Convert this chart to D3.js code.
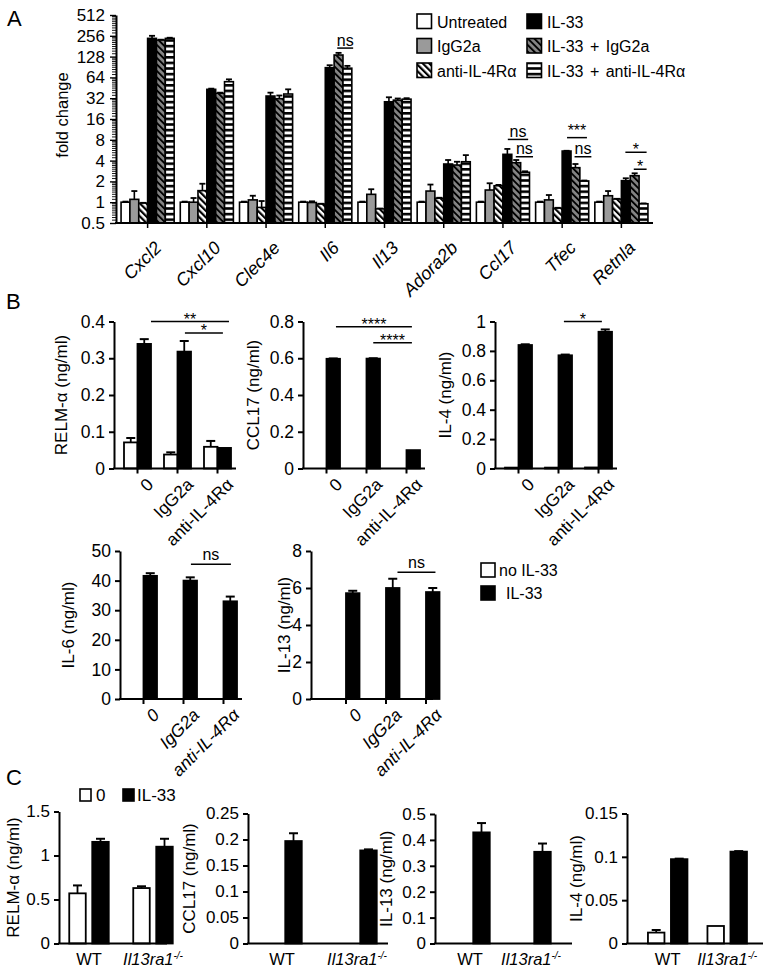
<!DOCTYPE html>
<html><head><meta charset="utf-8">
<script src="https://cdn.jsdelivr.net/npm/d3@7"></script>
<style>
body{margin:0;background:#fff;}
svg text{font-family:"Liberation Sans",Arial,Helvetica,sans-serif;fill:#000;}
</style></head><body>
<svg id="fig" width="774" height="972"></svg>
<script>
// ---------------- DATA ----------------
// Panel A (fold change, log2 axis)
const genesA = ["Cxcl2","Cxcl10","Clec4e","Il6","Il13","Adora2b","Ccl17","Tfec","Retnla"];
const seriesA = ["Untreated","IgG2a","anti-IL-4R\u03b1","IL-33","IL-33 + IgG2a","IL-33 + anti-IL-4R\u03b1"];
const untreatedA    = [1, 1, 1, 1, 1, 1, 1, 1, 1];
const untreatedErrA = [1.02, 1.02, 1.02, 1.02, 1.02, 1.02, 1.02, 1.02, 1.02];
const igg2aA        = [1.1, 1.0, 1.08, 0.99, 1.3, 1.45, 1.5, 1.08, 1.24];
const igg2aErrA     = [1.45, 1.15, 1.24, 1.03, 1.54, 1.8, 1.88, 1.27, 1.45];
const antiA         = [0.97, 1.47, 0.84, 0.94, 0.8, 1.14, 1.73, 0.82, 1.11];
const antiErrA      = [0.98, 1.85, 1.04, 0.95, 0.81, 1.16, 1.78, 0.83, 1.12];
const il33A         = [235, 43, 34.4, 88.5, 28.4, 3.57, 4.93, 5.5, 2.05];
const il33ErrA      = [256, 44, 38.5, 96, 33, 4.08, 5.9, 5.55, 2.22];
const il33IgA       = [222, 37.7, 31.5, 135, 30, 3.45, 3.73, 3.16, 2.42];
const il33IgErrA    = [225, 38.5, 35, 145, 31.7, 3.85, 4.08, 3.57, 2.62];
const il33AntiA     = [235, 55.5, 36.8, 87, 31, 3.85, 2.71, 2.03, 0.95];
const il33AntiErrA  = [240, 60, 43, 94, 32, 4.8, 2.8, 2.06, 0.96];
const ticksA = [0.5, 1, 2, 4, 8, 16, 32, 64, 128, 256, 512];
// significance marks in A: gene index, bar-index span, y value, text
const sigA = [
  {g:3, i1:4.35, i2:6.15, v:170, t:"ns"},
  {g:6, i1:3.55, i2:5.85, v:8.1, t:"ns"},
  {g:6, i1:4.45, i2:6.4, v:4.55, t:"ns"},
  {g:7, i1:3.55, i2:5.8, v:8.6, t:"***", dy:-1.5},
  {g:7, i1:4.4, i2:6.3, v:4.55, t:"ns"},
  {g:8, i1:3.45, i2:5.85, v:5.28, t:"*"},
  {g:8, i1:4.4, i2:5.85, v:3.0, t:"*"}
];

// Panel B
const groupsB = ["0", "IgG2a", "anti-IL-4R\u03b1"];
const relmB_no = [0.071, 0.038, 0.059],  relmB_noErr = [0.012, 0.006, 0.016];
const relmB_il = [0.339, 0.318, 0.056],  relmB_ilErr = [0.013, 0.029, 0];
const ccl17B_no = [0, 0, 0],             ccl17B_noErr = [0, 0, 0];
const ccl17B_il = [0.597, 0.598, 0.1],   ccl17B_ilErr = [0.002, 0.002, 0];
const il4B_no = [0.006, 0.006, 0.007],   il4B_noErr = [0, 0, 0];
const il4B_il = [0.84, 0.77, 0.93],      il4B_ilErr = [0.005, 0.005, 0.016];
const il6B_no = [0, 0, 0],               il6B_noErr = [0, 0, 0];
const il6B_il = [41.6, 40, 33],          il6B_ilErr = [0.9, 1.1, 1.6];
const il13B_no = [0, 0, 0],              il13B_noErr = [0, 0, 0];
const il13B_il = [5.72, 6.0, 5.78],      il13B_ilErr = [0.13, 0.5, 0.22];
const ticksRelmB = [0, 0.1, 0.2, 0.3, 0.4];
const ticksCcl17B = [0, 0.2, 0.4, 0.6, 0.8];
const ticksIl4B = [0, 0.2, 0.4, 0.6, 0.8, 1];
const ticksIl6B = [0, 10, 20, 30, 40, 50];
const ticksIl13B = [0, 2, 4, 6, 8];
const legendB = ["no IL-33", "IL-33"];

// Panel C
const groupsC = ["WT", "Il13ra1"];
const relmC_0 = [0.57, 0.63],   relmC_0Err = [0.09, 0.02];
const relmC_il = [1.155, 1.1],  relmC_ilErr = [0.035, 0.09];
const ccl17C_0 = [0, 0],        ccl17C_0Err = [0, 0];
const ccl17C_il = [0.197, 0.179], ccl17C_ilErr = [0.015, 0.002];
const il13C_0 = [0, 0],         il13C_0Err = [0, 0];
const il13C_il = [0.429, 0.354], il13C_ilErr = [0.036, 0.032];
const il4C_0 = [0.0126, 0.0202], il4C_0Err = [0.003, 0];
const il4C_il = [0.0973, 0.106], il4C_ilErr = [0.0006, 0.0006];
const ticksRelmC = [0, 0.5, 1, 1.5];
const ticksCcl17C = [0, 0.05, 0.1, 0.15, 0.2, 0.25];
const ticksIl13C = [0, 0.1, 0.2, 0.3, 0.4, 0.5];
const ticksIl4C = [0, 0.05, 0.1, 0.15];
const legendC = ["0", "IL-33"];

// ---------------- DRAWING ----------------
const svg = d3.select("#fig");
const defs = svg.append("defs");
function stripePattern(id, bg, period, sw, rot) {
  const p = defs.append("pattern").attr("id", id).attr("patternUnits", "userSpaceOnUse")
    .attr("width", period).attr("height", period);
  if (rot !== null) p.attr("patternTransform", `rotate(${rot})`);
  p.append("rect").attr("width", period).attr("height", period).attr("fill", bg);
  if (rot !== null) p.append("rect").attr("width", sw).attr("height", period).attr("fill", "#000");
  else p.append("rect").attr("width", period).attr("height", sw).attr("fill", "#000");
}
stripePattern("diagW", "#fff", 4.6, 2.2, -45);
stripePattern("diagG", "#858585", 4.6, 1.9, -45);
stripePattern("horiz", "#fff", 5.6, 2.6, null);
const fillsA = ["#fff", "#9a9a9a", "url(#diagW)", "#000", "url(#diagG)", "url(#horiz)"];
const FS = 16;

function panelLetter(t, x, y) {
  svg.append("text").attr("x", x).attr("y", y).attr("font-size", 22).text(t);
}
panelLetter("A", 7, 26);
panelLetter("B", 6, 309);
panelLetter("C", 6, 785);

// ----- Panel A -----
(function () {
  const g = svg.append("g");
  const xL = 116, yB = 223, yT = 15;
  const y = d3.scaleLog().base(2).domain([0.5, 512]).range([yB, yT]);
  const x = d3.scaleBand().domain(genesA).range([118, 651]);
  const bw = 8.85;
  const vals = [untreatedA, igg2aA, antiA, il33A, il33IgA, il33AntiA];
  const errs = [untreatedErrA, igg2aErrA, antiErrA, il33ErrA, il33IgErrA, il33AntiErrA];
  const start = gi => x(genesA[gi]) + x.bandwidth() / 2 - 3 * bw;
  vals.forEach((arr, si) => {
    arr.forEach((v, gi) => {
      const bx = start(gi) + si * bw;
      const e = errs[si][gi];
      if (e > v) {
        g.append("line").attr("x1", bx + bw / 2).attr("x2", bx + bw / 2).attr("y1", y(v)).attr("y2", y(e))
          .attr("stroke", "#000").attr("stroke-width", 1.6);
        g.append("line").attr("x1", bx + bw / 2 - 3).attr("x2", bx + bw / 2 + 3).attr("y1", y(e)).attr("y2", y(e))
          .attr("stroke", "#000").attr("stroke-width", 1.8);
      }
      g.append("rect").attr("x", bx).attr("y", y(v)).attr("width", bw).attr("height", yB - y(v))
        .attr("fill", fillsA[si]).attr("stroke", "#000").attr("stroke-width", 1.6);
    });
  });
  // y axis
  const ax = g.append("g").attr("transform", `translate(${xL},0)`)
    .call(d3.axisLeft(y).tickValues(ticksA).tickSize(6).tickSizeOuter(0).tickFormat(d => String(d)));
  ax.select(".domain").attr("stroke-width", 2);
  ax.selectAll(".tick line").attr("stroke-width", 1.4);
  ax.selectAll(".tick text").attr("font-size", 17).attr("font-family", null).attr("x", -11);
  // minor ticks
  const minor = [];
  ticksA.slice(0, -1).forEach(t => { for (let j = 1; j < 10; j++) minor.push(t * (1 + j / 10)); });
  g.selectAll(".minA").data(minor).enter().append("line")
    .attr("x1", xL - 4).attr("x2", xL).attr("y1", d => y(d)).attr("y2", d => y(d))
    .attr("stroke", "#000").attr("stroke-width", 0.9);
  // x axis
  g.append("line").attr("x1", xL - 1).attr("x2", 653).attr("y1", yB).attr("y2", yB).attr("stroke", "#000").attr("stroke-width", 2);
  genesA.forEach(gn => {
    const cx = x(gn) + x.bandwidth() / 2;
    g.append("line").attr("x1", cx).attr("x2", cx).attr("y1", yB).attr("y2", yB + 5).attr("stroke", "#000").attr("stroke-width", 1.5);
    g.append("text").attr("transform", `translate(${cx + 15},${yB + 26}) rotate(-45)`)
      .attr("text-anchor", "end").attr("font-size", 18).attr("font-style", "italic").text(gn);
  });
  g.append("text").attr("transform", `translate(68,115) rotate(-90)`).attr("text-anchor", "middle")
    .attr("font-size", 16.5).text("fold change");
  // significance
  sigA.forEach(s => {
    const x1 = start(s.g) + s.i1 * bw, x2 = start(s.g) + s.i2 * bw, yy = y(s.v);
    g.append("line").attr("x1", x1).attr("x2", x2).attr("y1", yy).attr("y2", yy).attr("stroke", "#000").attr("stroke-width", 1.5);
    const dy = s.dy !== undefined ? s.dy : (s.t === "ns" ? -2.5 : 3);
    g.append("text").attr("x", (x1 + x2) / 2).attr("y", yy + dy)
      .attr("text-anchor", "middle").attr("font-size", FS).text(s.t);
  });
  // legend
  const lg = svg.append("g");
  seriesA.forEach((s, i) => {
    const col = Math.floor(i / 3), row = i % 3;
    const lx = col === 0 ? 417 : 527, ly = 14 + row * 24.5;
    lg.append("rect").attr("x", lx).attr("y", ly).attr("width", 14.5).attr("height", 14.5)
      .attr("fill", fillsA[i]).attr("stroke", "#000").attr("stroke-width", 1.6);
    lg.append("text").attr("x", lx + 20).attr("y", ly + 13.5).attr("font-size", FS)
      .attr("word-spacing", 2).text(s);
  });
})();

// ----- generic bar chart for B and C -----
function barChart(o) {
  const g = svg.append("g");
  const y = d3.scaleLinear().domain([0, o.max]).range([o.yb, o.yt]);
  const x = d3.scalePoint().domain(o.groups).range([o.x0 + o.c1, o.x0 + o.c2]);
  const fills = ["#fff", "#000"];
  o.series.forEach((s, si) => {
    s.vals.forEach((v, gi) => {
      if (v <= 0) return;
      const cx = x(o.groups[gi]);
      const bx = si === 0 ? cx - o.gap / 2 - o.bw : cx + o.gap / 2;
      const e = s.errs[gi];
      if (e > 0) {
        g.append("line").attr("x1", bx + o.bw / 2).attr("x2", bx + o.bw / 2).attr("y1", y(v)).attr("y2", y(v + e))
          .attr("stroke", "#000").attr("stroke-width", 1.8);
        g.append("line").attr("x1", bx + o.bw / 2 - 4.5).attr("x2", bx + o.bw / 2 + 4.5).attr("y1", y(v + e)).attr("y2", y(v + e))
          .attr("stroke", "#000").attr("stroke-width", 2);
      }
      g.append("rect").attr("x", bx).attr("y", y(v)).attr("width", o.bw).attr("height", Math.max(0.01, o.yb - y(v)))
        .attr("fill", fills[si]).attr("stroke", "#000").attr("stroke-width", 1.8);
    });
  });
  const ax = g.append("g").attr("transform", `translate(${o.x0},0)`)
    .call(d3.axisLeft(y).tickValues(o.ticks).tickSize(5).tickSizeOuter(0).tickFormat(d => String(d)));
  ax.select(".domain").attr("stroke-width", 2);
  ax.selectAll(".tick line").attr("stroke-width", 2);
  ax.selectAll(".tick text").attr("font-size", o.tfs).attr("font-family", null).attr("x", -9);
  g.append("line").attr("x1", o.x0 - 1).attr("x2", o.x0 + o.len).attr("y1", o.yb).attr("y2", o.yb)
    .attr("stroke", "#000").attr("stroke-width", 2);
  o.groups.forEach((gn, i) => {
    const cx = x(gn);
    if (o.xticks) g.append("line").attr("x1", cx).attr("x2", cx).attr("y1", o.yb).attr("y2", o.yb + 5)
      .attr("stroke", "#000").attr("stroke-width", 2);
    if (o.labelMode === "rot") {
      g.append("text").attr("transform", `translate(${cx + 17},${o.yb + 17}) rotate(-45)`)
        .attr("text-anchor", "end").attr("font-size", 17.5).attr("font-style", o.italic ? "italic" : null).text(gn);
    } else {
      const t = g.append("text").attr("x", cx).attr("y", o.yb + 21).attr("text-anchor", "middle").attr("font-size", 16.5);
      if (gn === "WT") t.text(gn);
      else {
        t.append("tspan").attr("font-style", "italic").text(gn);
        t.append("tspan").attr("font-style", "italic").attr("font-size", 10).attr("dy", -6).text("-/-");
      }
    }
  });
  g.append("text").attr("transform", `translate(${o.x0 - o.tOff},${(o.yb + o.yt) / 2}) rotate(-90)`)
    .attr("text-anchor", "middle").attr("font-size", 17).text(o.title);
  (o.sig || []).forEach(s => {
    const x1 = x(o.groups[s.a[0]]) + s.a[1] * o.bw, x2 = x(o.groups[s.b[0]]) + s.b[1] * o.bw, yy = y(s.v);
    g.append("line").attr("x1", x1).attr("x2", x2).attr("y1", yy).attr("y2", yy).attr("stroke", "#000").attr("stroke-width", 1.5);
    g.append("text").attr("x", (x1 + x2) / 2).attr("y", s.t === "ns" ? yy - 4 : yy + 3)
      .attr("text-anchor", "middle").attr("font-size", FS).text(s.t);
  });
}

const bRow1 = {yb: 468.5, yt: 321.5, c1: 23.5, c2: 103.5, len: 122, bw: 13.5, gap: 0, xticks: true, labelMode: "rot",
  groups: groupsB, tOff: 47, tfs: 17.5};
barChart(Object.assign({}, bRow1, {x0: 114, max: 0.4, ticks: ticksRelmB, title: "RELM-\u03b1 (ng/ml)",
  series: [{vals: relmB_no, errs: relmB_noErr}, {vals: relmB_il, errs: relmB_ilErr}],
  sig: [{a: [0, 1.0], b: [2, 0.85], v: 0.4, t: "**"}, {a: [1, 0.55], b: [2, 0.4], v: 0.369, t: "*"}]}));
barChart(Object.assign({}, bRow1, {x0: 303, max: 0.8, ticks: ticksCcl17B, title: "CCL17 (ng/ml)", tOff: 44,
  series: [{vals: ccl17B_no, errs: ccl17B_noErr}, {vals: ccl17B_il, errs: ccl17B_ilErr}],
  sig: [{a: [0, 0.7], b: [2, 0.4], v: 0.771, t: "****"}, {a: [1, 0.5], b: [2, 0.4], v: 0.684, t: "****"}]}));
barChart(Object.assign({}, bRow1, {x0: 495, max: 1, ticks: ticksIl4B, title: "IL-4 (ng/ml)", tOff: 44,
  series: [{vals: il4B_no, errs: il4B_noErr}, {vals: il4B_il, errs: il4B_ilErr}],
  sig: [{a: [1, 0.4], b: [2, 0.25], v: 1.0, t: "*"}]}));
const bRow2 = Object.assign({}, bRow1, {yb: 699, yt: 551, italic: true});
barChart(Object.assign({}, bRow2, {x0: 120, max: 50, ticks: ticksIl6B, title: "IL-6 (ng/ml)", tOff: 46,
  series: [{vals: il6B_no, errs: il6B_noErr}, {vals: il6B_il, errs: il6B_ilErr}],
  sig: [{a: [1, 0.55], b: [2, 0.55], v: 45.5, t: "ns"}]}));
barChart(Object.assign({}, bRow2, {x0: 311, c1: 35, c2: 115, max: 8, ticks: ticksIl13B, title: "IL-13 (ng/ml)", tOff: 21,
  series: [{vals: il13B_no, errs: il13B_noErr}, {vals: il13B_il, errs: il13B_ilErr}],
  sig: [{a: [1, 0.85], b: [2, 0.7], v: 6.85, t: "ns"}]}));
// legend B
legendB.forEach((t, i) => {
  svg.append("rect").attr("x", 481).attr("y", 563 + i * 23).attr("width", 14).attr("height", 14)
    .attr("fill", i === 0 ? "#fff" : "#000").attr("stroke", "#000").attr("stroke-width", 1.6);
  svg.append("text").attr("x", i === 0 ? 499 : 506).attr("y", 576 + i * 23).attr("font-size", FS).text(t);
});

const cRow = {yb: 943.5, bw: 16.5, gap: 6.5, xticks: false, labelMode: "flat", groups: groupsC, tfs: 17};
barChart(Object.assign({}, cRow, {x0: 59, yt: 811.5, c1: 30, c2: 94, len: 108, max: 1.5, ticks: ticksRelmC,
  title: "RELM-\u03b1 (ng/ml)", tOff: 40,
  series: [{vals: relmC_0, errs: relmC_0Err}, {vals: relmC_il, errs: relmC_ilErr}]}));
barChart(Object.assign({}, cRow, {x0: 248, yt: 813.5, c1: 34, c2: 109, len: 140, max: 0.25, ticks: ticksCcl17C,
  title: "CCL17 (ng/ml)", tOff: 53,
  series: [{vals: ccl17C_0, errs: ccl17C_0Err}, {vals: ccl17C_il, errs: ccl17C_ilErr}]}));
barChart(Object.assign({}, cRow, {x0: 435, yt: 814, c1: 35, c2: 96, len: 137, max: 0.5, ticks: ticksIl13C,
  title: "IL-13 (ng/ml)", tOff: 43,
  series: [{vals: il13C_0, errs: il13C_0Err}, {vals: il13C_il, errs: il13C_ilErr}]}));
barChart(Object.assign({}, cRow, {x0: 627, yt: 813.5, c1: 40.7, c2: 100.2, len: 136, max: 0.15, ticks: ticksIl4C,
  title: "IL-4 (ng/ml)", tOff: 45,
  series: [{vals: il4C_0, errs: il4C_0Err}, {vals: il4C_il, errs: il4C_ilErr}]}));
// legend C
legendC.forEach((t, i) => {
  const lx = i === 0 ? 80 : 123;
  svg.append("rect").attr("x", lx).attr("y", 789).attr("width", 11).attr("height", 12)
    .attr("fill", i === 0 ? "#fff" : "#000").attr("stroke", "#000").attr("stroke-width", 1.6);
  svg.append("text").attr("x", lx + (i === 0 ? 16 : 14)).attr("y", 801).attr("font-size", 17).text(t);
});
</script>
</body></html>
